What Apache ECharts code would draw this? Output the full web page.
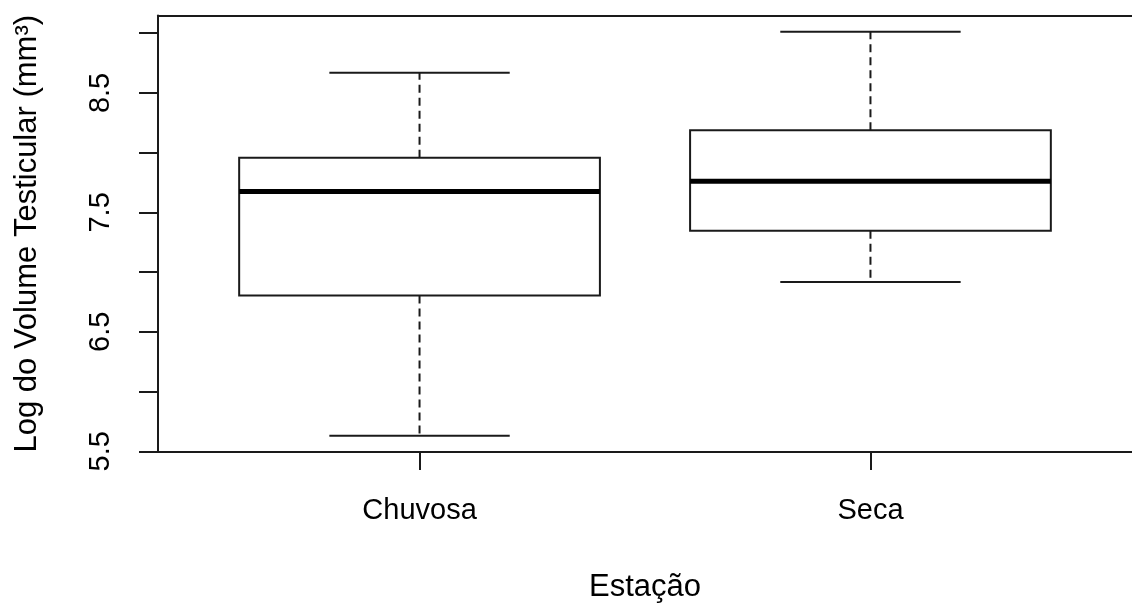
<!DOCTYPE html>
<html>
<head>
<meta charset="utf-8">
<script src="https://cdn.jsdelivr.net/npm/echarts@6/dist/echarts.min.js"></script>
<style>
    html, body { margin: 0; padding: 0; background: #fff; }
    #chart { width: 1132px; height: 608px; }
</style>
</head>
<body>
<div id="chart"></div>
<script>
// boxplot stats (log testicular volume)
var categories = ["Chuvosa", "Seca"];
var lowerWhisker = [5.63, 6.917];
var firstQuartile = [6.805, 7.347];
var medians = [7.675, 7.761];
var thirdQuartile = [7.958, 8.188];
var upperWhisker = [8.669, 9.013];

var yTicks = [5.5, 6.0, 6.5, 7.0, 7.5, 8.0, 8.5, 9.0];
var yLabels = [5.5, 6.5, 7.5, 8.5];

var FONT = "'Liberation Sans', Arial, sans-serif";
var INK = '#1a1a1a';

var boxData = categories.map(function(name, i) {
    return [i + 1, lowerWhisker[i], firstQuartile[i], medians[i], thirdQuartile[i], upperWhisker[i]];
});

function renderBox(params, api) {
    var x = api.value(0);
    var lo = api.value(1), q1 = api.value(2), med = api.value(3), q3 = api.value(4), hi = api.value(5);

    var boxL = api.coord([x - 0.4, q3]);
    var boxR = api.coord([x + 0.4, q1]);
    var capL = x - 0.2, capR = x + 0.2;

    var pLo = api.coord([x, lo]), pQ1 = api.coord([x, q1]);
    var pQ3 = api.coord([x, q3]), pHi = api.coord([x, hi]);
    var mL = api.coord([x - 0.4, med]), mR = api.coord([x + 0.4, med]);
    var cLoL = api.coord([capL, lo]), cLoR = api.coord([capR, lo]);
    var cHiL = api.coord([capL, hi]), cHiR = api.coord([capR, hi]);

    var dashed = { stroke: INK, lineWidth: 2, lineDash: [8, 5] };
    var solid = { stroke: INK, lineWidth: 2 };

    return {
        type: 'group',
        children: [
            { type: 'line', shape: { x1: pQ3[0], y1: pQ3[1], x2: pHi[0], y2: pHi[1] }, style: dashed },
            { type: 'line', shape: { x1: pQ1[0], y1: pQ1[1], x2: pLo[0], y2: pLo[1] }, style: dashed },
            { type: 'line', shape: { x1: cHiL[0], y1: cHiL[1], x2: cHiR[0], y2: cHiR[1] }, style: solid },
            { type: 'line', shape: { x1: cLoL[0], y1: cLoL[1], x2: cLoR[0], y2: cLoR[1] }, style: solid },
            {
                type: 'rect',
                shape: { x: boxL[0], y: boxL[1], width: boxR[0] - boxL[0], height: boxR[1] - boxL[1] },
                style: { fill: '#fff', stroke: INK, lineWidth: 2 }
            },
            { type: 'line', shape: { x1: mL[0], y1: mL[1], x2: mR[0], y2: mR[1] }, style: { stroke: '#000', lineWidth: 5 } }
        ]
    };
}

var myChart = echarts.init(document.getElementById('chart'));

var frameLine = { show: true, lineStyle: { color: INK, width: 2 } };

var option = {
    animation: false,
    backgroundColor: '#fff',
    grid: {
        left: 158,
        width: 977,   // frame runs just past the right edge, as in the source
        top: 15.5,
        bottom: 154,
        show: false,
        containLabel: false
    },
    xAxis: [{
        type: 'value',
        position: 'bottom',
        min: 0.42,
        max: 2.58,
        name: 'Estação',
        nameLocation: 'middle',
        nameGap: 120,
        nameTextStyle: { fontFamily: FONT, fontSize: 31, color: '#000', lineHeight: 31 },
        axisLine: frameLine,
        splitLine: { show: false },
        axisTick: {
            show: true,
            length: 18,
            customValues: [1, 2],
            lineStyle: { color: INK, width: 2 }
        },
        axisLabel: {
            customValues: [1, 2],
            margin: 44,
            fontFamily: FONT,
            fontSize: 29,
            lineHeight: 29,
            color: '#000',
            formatter: function(v) {
                return categories[Math.round(v) - 1] || '';
            }
        }
    }, {
        // top edge of the box frame only
        type: 'value',
        position: 'top',
        min: 0.42,
        max: 2.58,
        axisLine: frameLine,
        axisTick: { show: false },
        axisLabel: { show: false },
        splitLine: { show: false }
    }],
    yAxis: {
        type: 'value',
        min: 5.494,
        max: 9.148,
        name: 'Log do Volume Testicular (mm³)',
        nameLocation: 'middle',
        nameGap: 115,
        nameTextStyle: { fontFamily: FONT, fontSize: 31, color: '#000', lineHeight: 31 },
        axisLine: frameLine,
        splitLine: { show: false },
        axisTick: {
            show: true,
            length: 19,
            customValues: yTicks,
            lineStyle: { color: INK, width: 2 }
        },
        axisLabel: {
            customValues: yLabels,
            rotate: 90,
            margin: 43,
            fontFamily: FONT,
            fontSize: 29,
            lineHeight: 29,
            color: '#000',
            formatter: function(v) {
                return v.toFixed(1);
            }
        }
    },
    series: [{
        type: 'custom',
        renderItem: renderBox,
        encode: { x: 0, y: [1, 2, 3, 4, 5] },
        data: boxData
    }]
};

myChart.setOption(option);
</script>
</body>
</html>
